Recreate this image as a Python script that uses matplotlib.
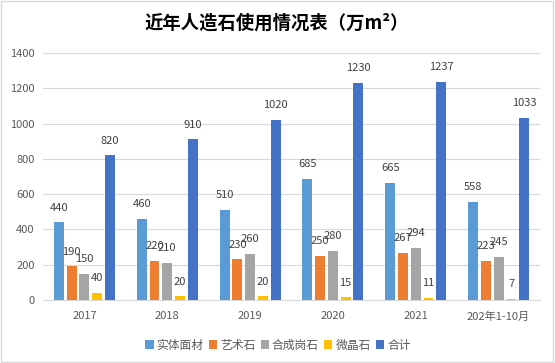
import numpy as np
import matplotlib
matplotlib.use("Agg")
import matplotlib.pyplot as plt
from matplotlib.patches import Rectangle

plt.rcParams['font.family'] = ['Noto Sans CJK SC', 'DejaVu Sans']

categories = ["2017", "2018", "2019", "2020", "2021", "202年1-10月"]
series_names = ["实体面材", "艺术石", "合成岗石", "微晶石", "合计"]
shiti = [440, 460, 510, 685, 665, 558]
yishu = [190, 220, 230, 250, 267, 223]
hecheng = [150, 210, 260, 280, 294, 245]
weijing = [40, 20, 20, 15, 11, 7]
heji = [820, 910, 1020, 1230, 1237, 1033]
colors = ["#5B9BD5", "#ED7D31", "#A5A5A5", "#FFC000", "#4472C4"]

fig = plt.figure(figsize=(5.55, 3.63), dpi=100)
ax = fig.add_axes([43 / 555, 1 - 300 / 363, 497 / 555, 247 / 363])

x = np.arange(len(categories))
w = 0.12
step = 0.154
all_series = [shiti, yishu, hecheng, weijing, heji]
for i, (vals, name, c) in enumerate(zip(all_series, series_names, colors)):
    pos = x + (i - 2) * step
    ax.bar(pos, vals, width=w, color=c, label=name, zorder=3)
    for px, v in zip(pos, vals):
        ax.annotate(str(v), (px, v), xytext=(0, 7), textcoords="offset points",
                    ha="center", va="bottom", fontsize=8, color="#404040")

ax.set_xlim(-0.5, len(categories) - 0.5)
ax.set_ylim(0, 1400)
ax.set_yticks(range(0, 1401, 200))
ax.set_xticks(x)
ax.set_xticklabels(categories)
ax.tick_params(axis="both", length=0, labelsize=8, labelcolor="#595959")
ax.tick_params(axis="y", pad=6)
ax.tick_params(axis="x", pad=8)
ax.grid(axis="y", color="#D9D9D9", linewidth=0.8, zorder=0)
for s in ["top", "right", "left"]:
    ax.spines[s].set_visible(False)
ax.spines["bottom"].set_color("#D9D9D9")

fig.text(277 / 555, 1 - 23 / 363, "近年人造石使用情况表（万m²）", ha="center", va="center",
         fontsize=13.2, fontweight="bold", color="#000000")

leg = fig.legend(loc="center", bbox_to_anchor=(278 / 555, 1 - 345 / 363), ncol=5, frameon=False,
                 fontsize=8.5, handlelength=0.7, handleheight=0.7, handletextpad=0.25,
                 columnspacing=0.45, labelcolor="#595959")

fig.patches.append(Rectangle((0.002, 0.003), 0.995, 0.994, transform=fig.transFigure,
                             fill=False, edgecolor="#D9D9D9", linewidth=1))

fig.savefig("out.png", dpi=100)
